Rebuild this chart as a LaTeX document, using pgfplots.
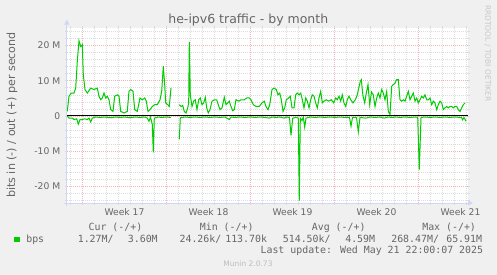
\documentclass[border=0pt]{standalone}
\usepackage{fontspec}
\setmainfont{DejaVu Sans}
\newfontfamily\monofont{DejaVu Sans Mono}
\usepackage{pgfplots}
\pgfplotsset{compat=1.18}
\usetikzlibrary{arrows.meta}
\definecolor{bgc}{HTML}{F0F0F0}
\definecolor{fontc}{HTML}{666666}
\definecolor{axisc}{HTML}{CFD6F8}
\definecolor{gridc}{HTML}{DCDCDC}
\definecolor{mgridc}{HTML}{F2B6B6}
\definecolor{linec}{HTML}{00CC00}
\definecolor{rrdc}{HTML}{C8C8C8}
\definecolor{munc}{HTML}{BDBDBD}
\begin{document}
\begin{tikzpicture}
\fill[bgc] (0,0) rectangle (497bp,275bp);
\begin{axis}[
  at={(67bp,72bp)}, anchor=south west,
  width=401bp, height=175bp, scale only axis,
  xmin=67, xmax=468, ymin=-24.65, ymax=24.93,
  clip=false,
  axis line style={draw=none},
  axis background/.style={fill=white},
  tick label style={font=\fontsize{9.2bp}{10bp}\selectfont, text=fontc},
  xtick={124.5,208.5,292.5,376.5,460.5},
  xticklabels={Week 17,Week 18,Week 19,Week 20,Week 21},
  minor xtick={70.5,82.5,...,466.5},
  extra x ticks={82.5,166.5,250.5,334.5,418.5},
  extra x tick labels={},
  extra x tick style={grid=major},
  xminorgrids=true,
  ytick={-20,-10,0,10,20},
  yticklabels={-20 M,-10 M,0,10 M,20 M},
  minor ytick={-24,-22,...,24},
  ymajorgrids=true, yminorgrids=true,
  major tick length=0pt, minor tick length=2bp,
  tick align=outside,
  minor tick style={draw=gridc, line width=0.6bp},
  major tick style={draw=none},
  minor grid style={draw=gridc, line width=0.6bp, dash pattern=on 1bp off 1bp},
  major grid style={draw=mgridc, line width=0.6bp, dash pattern=on 1bp off 1bp},
  xticklabel style={anchor=north, inner sep=0pt, yshift=-5.7bp},
  yticklabel style={anchor=east, inner sep=0pt, xshift=-6.5bp},
  unbounded coords=jump,
]
% out (+)
\addplot[linec, line width=1bp] coordinates {
(67.3,1.3) (69,5.6) (71.3,6.5) (74,6.5) (75.7,7.9) (77.3,15.5) (79,21.3) (80.7,19.7)
(82.3,20.2) (83.3,11.7) (85,7.5) (87.3,6.5) (90.7,7.9) (94,7.5) (97.3,7.9) (99,5.6)
(100.7,4.6) (102.3,5.1) (104,6.5) (105.7,5.1) (107.3,5.6) (109,4.6) (110.7,1.8) (113,1.3)
(114.7,5.6) (117.3,6.0) (119,5.6) (120.7,1.3) (124,0.85) (127.3,1.3) (129,7.0) (130.7,7.5)
(133,7.0) (134.7,1.8) (137.3,1.3) (140,5.1) (142.3,4.6) (144.7,5.1) (146.3,4.2) (148,1.3)
(150,1.8) (152.3,2.7) (154.7,3.2) (157.3,3.2) (160,4.6) (161.7,7.0) (163.3,14.1) (164.7,8.9)
(165.7,3.7) (167.7,3.2) (169.3,2.7) (171,7.9)
(175,nan)
(179.3,3.2) (181,2.7) (182.7,3.0) (184.3,1.3) (186,0.85) (187.7,2.3) (188.7,3.7) (189.3,21.0)
(190.3,6.0) (192,2.7) (193.7,4.2) (195.3,4.6) (197,1.8) (198.7,4.6) (200.3,5.1) (202,3.2)
(203.7,3.7) (205.3,5.3) (206.7,2.3) (208.3,0.85) (210,1.8) (212,4.2) (214.3,4.6) (216.7,4.6)
(218.3,3.2) (220,1.8) (222,2.3) (224.3,5.3) (226,3.2) (227.7,3.7) (229.3,4.2) (231,2.7)
(232.7,1.5) (234.3,1.8) (236,4.6) (238.7,4.2) (241,4.6) (244.3,4.6) (246.7,5.1) (249.3,5.1)
(251,4.6) (253.3,3.2) (256,2.7) (259.3,2.7) (262,3.7) (264.3,4.2) (266,2.7) (268,1.8)
(269.7,3.2) (272,7.5) (274,7.9) (276.3,7.5) (278,6.0) (279.7,6.5) (281.3,4.6) (283,1.3)
(284.7,2.3) (286.3,4.6) (288.7,5.1) (290.3,5.6) (292,2.3) (294,2.3) (295.7,6.0) (297.3,6.5)
(299,6.0) (300.7,6.5) (302.3,4.6) (304,2.3) (305.7,5.1) (307.3,4.2) (309,2.3) (310.7,4.6)
(312.3,6.0) (314,5.6) (315.7,3.7) (317.3,2.3) (319,5.1) (320.7,7.0) (322.3,3.7) (324,4.2)
(326.3,4.6) (328.7,4.2) (331.3,4.6) (333.7,3.7) (335.7,5.1) (337.3,4.6) (339,5.6) (340.7,4.2)
(342.3,6.0) (344,3.7) (345.7,2.7) (347.3,4.6) (349,5.6) (350.7,4.6) (353,3.7) (355.3,4.6)
(357.3,6.0) (358.7,7.9) (360.3,9.8) (361.3,10.3) (363,5.6) (364.7,3.7) (366.3,6.5) (368,8.9)
(369.7,3.2) (371.5,6.8) (373.3,6.0) (375,2.7) (376.7,5.1) (378.3,6.5) (380,5.1) (381.7,7.5)
(383.3,6.5) (385,4.6) (386.7,7.0) (388.3,1.3) (390,0.4) (391.7,8.4) (393.3,8.9) (395,9.3)
(396.7,10.3) (398.3,10.3) (400,4.6) (401.7,4.2) (403.3,4.6) (405,4.2) (406.7,5.6) (408.3,7.0)
(410,4.6) (411.7,5.6) (413.3,6.5) (415,4.2) (416.7,5.1) (418.3,3.7) (420,4.6) (421.7,5.6)
(423.3,5.1) (425,6.0) (426.7,4.6) (428.3,4.6) (430,5.1) (431.7,3.2) (433.3,4.2) (435,3.7)
(436.7,1.8) (438.3,3.2) (440,4.2) (441.7,3.7) (443.3,1.8) (445,2.3) (446.7,2.7) (448.3,2.3)
(450,2.7) (451.7,2.7) (453.3,2.3) (455,2.7) (456.7,2.7) (458.3,1.8) (460,1.3) (461.7,2.3)
(463.3,3.2) (465,3.7)
};
% in (-)
\addplot[linec, line width=1bp] coordinates {
(67.3,0) (69,-0.6) (72.3,-0.6) (74,-1.0) (76.7,-0.8) (78.3,-2.3) (80,-1.0) (82.3,-1.0)
(84.7,-0.8) (87.3,-1.0) (89,-0.6) (90.7,-1.7) (92.3,-0.6) (95.7,-0.3) (100,-0.4) (105,-0.3)
(110,-0.5) (115,-0.3) (120,-0.4) (125,-0.3) (130,-0.5) (135,-0.3) (140,-0.4) (145,-0.3)
(147.3,-0.6) (149,-1.5) (150.5,-0.3) (152.3,-2.4) (153.3,-10.3) (154.3,-0.6) (158,-0.3) (162,-0.4)
(166,-0.3) (171,-0.4)
(175,nan)
(179.3,-6.6) (180.3,-0.5) (185,-0.3) (190,-0.4) (195,-0.3) (200,-0.4) (205,-0.3) (210,-0.4)
(215,-0.3) (220,-0.4) (225,-0.3) (229.3,-1.0) (231,-0.3) (235,-0.4) (240,-0.3) (245,-0.4)
(250,-0.3) (255,-0.4) (260,-0.3) (265,-0.4) (269.3,-0.6) (272,-0.3) (276,-0.4) (280,-0.3)
(284,-0.6) (287,-0.3) (289.5,-0.4) (291,-5.5) (292.7,-0.6) (296,-0.4) (298.3,-0.6) (299.3,-24.0)
(300.3,-0.6) (302,-1.3) (303.3,-0.3) (304.7,-3.2) (306,-0.6) (310,-0.3) (315,-0.4) (320,-0.3)
(325,-0.4) (330,-0.3) (335,-0.4) (340,-0.3) (345,-0.4) (349.5,-0.4) (351,-2.9) (352.5,-0.4)
(356.5,-0.4) (358.3,-4.5) (360,-0.4) (366,-0.6) (370,-0.3) (375,-0.4) (380,-0.3) (384,-0.6)
(388,-0.3) (392,-0.4) (396,-0.3) (400,-0.4) (405,-0.3) (410,-0.4) (416,-0.3) (417.7,-0.4)
(419.3,-15.2) (421,-0.4) (425,-0.3) (430,-0.4) (435,-0.3) (440,-0.4) (445,-0.3) (450,-0.4)
(455,-0.3) (460,-0.4) (461.5,-0.4) (462.7,-1.1) (464,-0.4) (466,-1.5)
};
% zero rule
\addplot[black, line width=1bp] coordinates {(67,0) (468,0)};
% axis lines with arrows
\draw[axisc, line width=1bp, -{Triangle[width=5bp,length=5bp]}] (axis cs:63.5,-24.65) -- (axis cs:473,-24.65);
\draw[axisc, line width=1bp, -{Triangle[width=5bp,length=5bp]}] (axis cs:66.8,-25.5) -- (axis cs:66.8,27.3);
\end{axis}
% title
\node[anchor=base, font=\fontsize{12.5bp}{14bp}\selectfont, text=fontc, inner sep=0pt] at (248.3bp,251bp) {he-ipv6 traffic - by month};
% y label
\node[rotate=90, anchor=base, font=\fontsize{11.1bp}{12bp}\selectfont, text=fontc, inner sep=0pt] at (15bp,160bp) {bits in (-) / out (+) per second};
% rrdtool watermark
\node[rotate=-90, anchor=center, font=\fontsize{7.5bp}{8bp}\selectfont, text=rrdc, inner sep=0pt] at (487.7bp,221.5bp) {RRDTOOL / TOBI OETIKER};
% legend
\begin{scope}[every node/.style={anchor=base west, inner sep=0pt, text=fontc, font=\monofont\fontsize{9.9bp}{11bp}\selectfont}]
\node at (88.4bp,44.5bp) {Cur (-/+)};
\node at (199.7bp,44.5bp) {Min (-/+)};
\node at (311.7bp,44.5bp) {Avg (-/+)};
\node at (422.1bp,44.5bp) {Max (-/+)};
\node at (26.1bp,32.5bp) {bps};
\node at (77.6bp,32.5bp) {1.27M/};
\node at (127.7bp,32.5bp) {3.60M};
\node at (179.4bp,32.5bp) {24.26k/};
\node at (225.1bp,32.5bp) {113.70k};
\node at (282.7bp,32.5bp) {514.50k/};
\node at (345.1bp,32.5bp) {4.59M};
\node at (391.1bp,32.5bp) {268.47M/};
\node at (446.1bp,32.5bp) {65.91M};
\node[anchor=base east] at (483.3bp,21.5bp) {Last update: Wed May 21 22:00:07 2025};
\end{scope}
\fill[linec] (14bp,32.7bp) rectangle (19.5bp,38.3bp);
\node[anchor=base, inner sep=0pt, text=munc, font=\fontsize{7.5bp}{8bp}\selectfont] at (248bp,8.5bp) {Munin 2.0.73};
\pgfresetboundingbox
\path[use as bounding box] (0,0) rectangle (497bp,275bp);
\end{tikzpicture}
\end{document}
